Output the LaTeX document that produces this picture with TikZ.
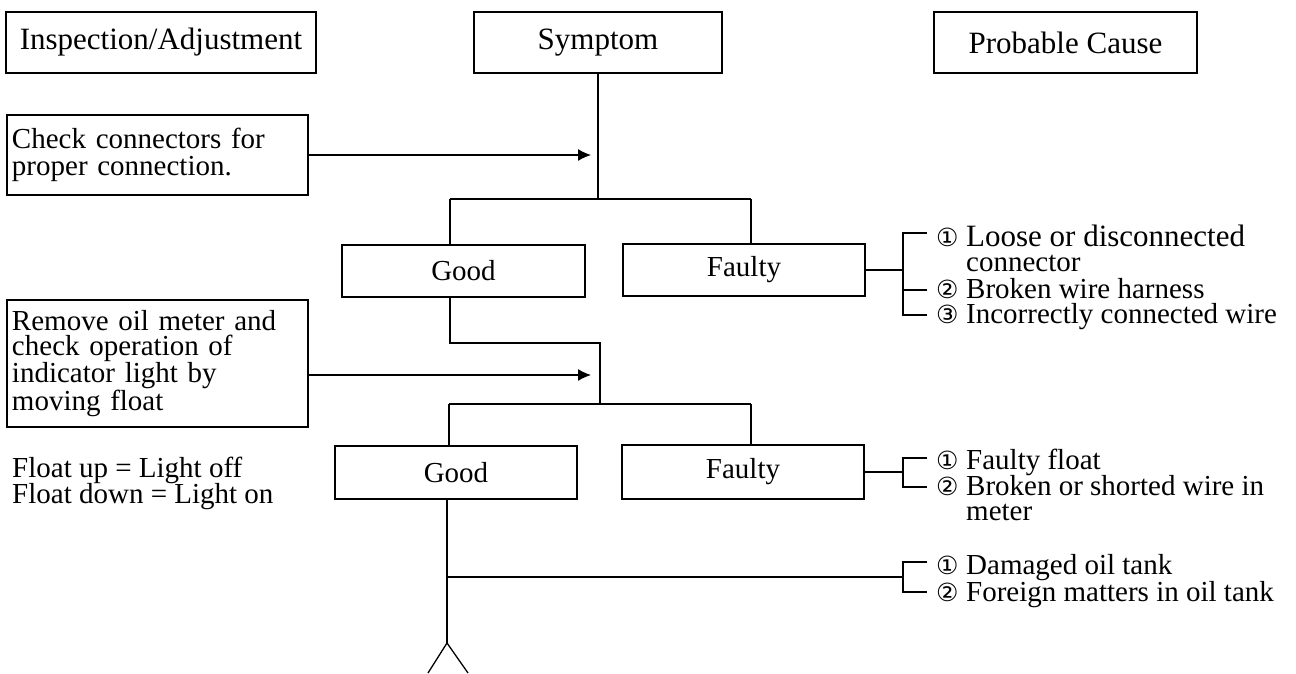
\documentclass[tikz,border=0pt]{standalone}
\usepackage{fontspec}
\setmainfont{Liberation Serif}
\newfontfamily\numfont{DejaVu Sans}
\usetikzlibrary{arrows.meta}
\newcommand{\cnum}[1]{\makebox[30pt][l]{\numfont\fontsize{25}{25}\selectfont #1}}
\begin{document}
\begin{tikzpicture}[x=1pt,y=-1pt,
  ln/.style={line width=1.3pt},
  bx/.style={draw, line width=1.3pt, inner sep=0pt, font=\fontsize{29}{29}\selectfont},
  hd/.style={bx, minimum height=61pt, font=\fontsize{31}{31}\selectfont},
  txt/.style={anchor=base west, inner sep=0pt, font=\fontsize{29}{29}\selectfont},
  arr/.style={ln, -{Latex[length=13pt,width=12pt]}}
]
\useasboundingbox (0,0) rectangle (1296,673);
% header boxes
\node[hd, minimum width=310pt] (insp) at (161,42.5) {Inspection/Adjustment};
\node[hd, minimum width=248pt] (sym) at (598,42.5) {Symptom};
\node[hd, minimum width=263pt] (cause) at (1065.5,42.5) {Probable Cause};
% inspection boxes
\node[bx, minimum width=301pt, minimum height=80pt, text width=291pt, align=left,
      font=\fontsize{29}{27}\selectfont] (chk1) at (157.5,155)
  {Check connectors for\\proper connection.};
\node[bx, minimum width=301pt, minimum height=127pt, text width=291pt, align=left,
      font=\fontsize{29}{25.3}\selectfont] (chk2) at (157.5,363.5)
  {Remove oil meter and\\check operation of\\indicator light by\\moving float};
% result boxes
\node[bx, minimum width=243pt, minimum height=52pt] (good1) at (463.5,271) {Good};
\node[bx, minimum width=242pt, minimum height=52pt] (faulty1) at (744,270) {Faulty};
\node[bx, minimum width=242pt, minimum height=53pt] (good2) at (456,472.5) {Good};
\node[bx, minimum width=242pt, minimum height=54pt] (faulty2) at (743,472) {Faulty};
% coordinates
\coordinate (j1) at (598,199);
\coordinate (j1l) at (450,199);
\coordinate (j1r) at (751,199);
\coordinate (a1) at (591,155);
\coordinate (g1b) at (450,343);
\coordinate (j2) at (600,343);
\coordinate (j2b) at (600,404);
\coordinate (j2l) at (449,404);
\coordinate (j2r) at (751,404);
\coordinate (a2) at (591,375);
\coordinate (fork) at (447,643);
\coordinate (fl) at (428,673);
\coordinate (fr) at (468,673);
\coordinate (b3) at (447,577);
\coordinate (br1) at (903,270);
\coordinate (br2) at (903,472);
\coordinate (br3) at (903,577);
% connectors
\draw[ln] (sym.south) -- (j1);
\draw[ln] (j1l) -- (j1r);
\draw[ln] (j1l) -- (j1l |- good1.north);
\draw[ln] (j1r) -- (j1r |- faulty1.north);
\draw[arr] (chk1.east) -- (a1);
\draw[ln] (g1b |- good1.south) -- (g1b) -- (j2) -- (j2b);
\draw[ln] (j2l) -- (j2r);
\draw[ln] (j2l) -- (j2l |- good2.north);
\draw[ln] (j2r) -- (j2r |- faulty2.north);
\draw[arr] (chk2.east |- a2) -- (a2);
\draw[ln] (fork |- good2.south) -- (fork);
\draw[ln] (fl) -- (fork) -- (fr);
\draw[ln] (b3) -- (br3);
\draw[ln] (faulty1.east) -- (br1);
\draw[ln] (faulty2.east) -- (br2);
% brackets
\draw[ln] (927,233) -- (903,233) -- (903,315) -- (927,315);
\draw[ln] (903,290) -- (927,290);
\draw[ln] (927,458) -- (903,458) -- (903,487) -- (927,487);
\draw[ln] (927,562) -- (903,562) -- (903,592) -- (927,592);
% causes
\node[txt, font=\fontsize{31}{31}\selectfont] (c11) at (936,246) {\cnum{①}Loose or disconnected};
\node[txt] (c11b) at (966,271) {connector};
\node[txt] (c12) at (936,298) {\cnum{②}Broken wire harness};
\node[txt] (c13) at (936,323) {\cnum{③}Incorrectly connected wire};
\node[txt] (c21) at (936,469) {\cnum{①}Faulty float};
\node[txt] (c22) at (936,495) {\cnum{②}Broken or shorted wire in};
\node[txt] (c22b) at (966,520) {meter};
\node[txt] (c31) at (936,574) {\cnum{①}Damaged oil tank};
\node[txt] (c32) at (936,601) {\cnum{②}Foreign matters in oil tank};
% float note
\node[txt] (f1) at (12,477) {Float up = Light off};
\node[txt] (f2) at (12,503) {Float down = Light on};
\end{tikzpicture}
\end{document}
